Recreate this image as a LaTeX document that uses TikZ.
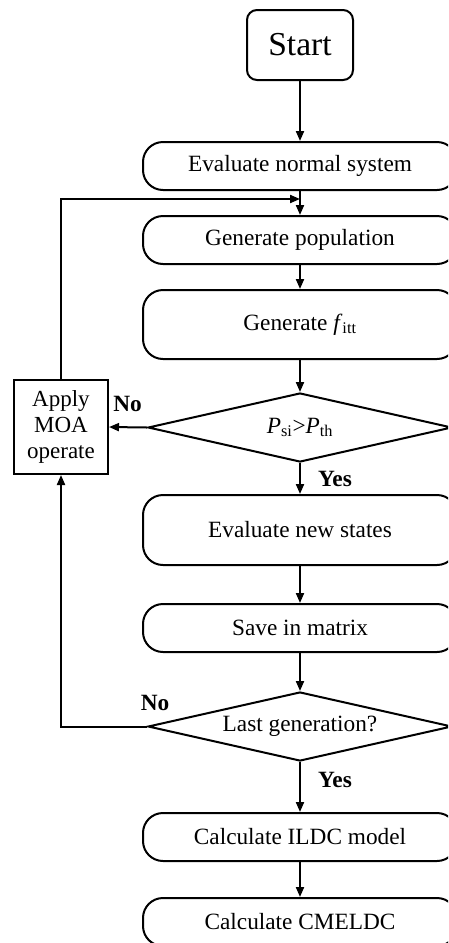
\documentclass[tikz,border=0pt]{standalone}
\usepackage{fontspec}
\setmainfont{Liberation Serif}
\usetikzlibrary{shapes.geometric,arrows.meta}
\tikzset{
  proc/.style={draw, line width=2pt, rounded corners=20pt, minimum width=314pt, inner sep=0pt, align=center, font=\fontsize{23.3}{27}\selectfont},
  dec/.style={draw, line width=2pt, diamond, shape aspect=4.4, minimum width=304pt, minimum height=69pt, inner sep=0pt, font=\fontsize{23.3}{27}\selectfont},
  conn/.style={line width=2pt, -{Triangle[length=10pt,width=8pt]}},
  lbl/.style={font=\bfseries\fontsize{23.3}{27}\selectfont, inner sep=0pt},
}
\begin{document}
\begin{tikzpicture}[x=1pt,y=-1pt]
\useasboundingbox (0,0) rectangle (448,943);
\begin{scope}
\clip (0,0) rectangle (448,943);
\node[draw, line width=2pt, rounded corners=10pt, minimum width=106pt, minimum height=70pt, inner sep=0pt, font=\fontsize{33.5}{36}\selectfont] (start) at (300,45) {Start};
\node[proc, minimum height=48pt] (evn) at (300,166) {Evaluate normal system};
\node[proc, minimum height=48pt] (gp) at (300,240) {Generate population};
\node[proc, minimum height=69pt] (gf) at (300,324.5) {Generate \textit{f}\textsubscript{itt}};
\node[dec] (d1) at (300,427.5) {\textit{P}\textsubscript{si}>\textit{P}\textsubscript{th}};
\node[draw, line width=2pt, minimum width=94pt, minimum height=94pt, inner sep=0pt, align=center, font=\fontsize{23}{26}\selectfont] (moa) at (61,427) {Apply\\MOA\\operate};
\node[proc, minimum height=70pt] (ens) at (300,530) {Evaluate new states};
\node[proc, minimum height=48pt] (sim) at (300,628) {Save in matrix};
\node[dec] (d2) at (300,726.5) {Last generation?};
\node[proc, minimum height=48pt] (ildc) at (300,837) {Calculate ILDC model};
\node[proc, minimum height=48pt] (cme) at (300,922) {Calculate CMELDC};

\coordinate (fb1) at (61,199);
\coordinate (fb2) at (300,199);
\coordinate (lb) at (61,726.5);

\draw[conn] (start) -- (evn);
\draw[conn] (evn) -- (gp);
\draw[conn] (moa.north) -- (fb1) -- (fb2);
\draw[conn] (gp) -- (gf);
\draw[conn] (gf) -- (d1);
\draw[conn] (d1.west) -- (moa.east);
\draw[conn] (d1.south) -- (ens);
\draw[conn] (ens) -- (sim);
\draw[conn] (sim) -- (d2.north);
\draw[conn] (d2.west) -- (lb) -- (moa.south);
\draw[conn] (d2.south) -- (ildc);
\draw[conn] (ildc) -- (cme);

\node[lbl] (no1) at (127.5,404) {No};
\node[lbl] (yes1) at (335,479) {Yes};
\node[lbl] (no2) at (155,703) {No};
\node[lbl] (yes2) at (335,780) {Yes};
\end{scope}
\end{tikzpicture}
\end{document}
